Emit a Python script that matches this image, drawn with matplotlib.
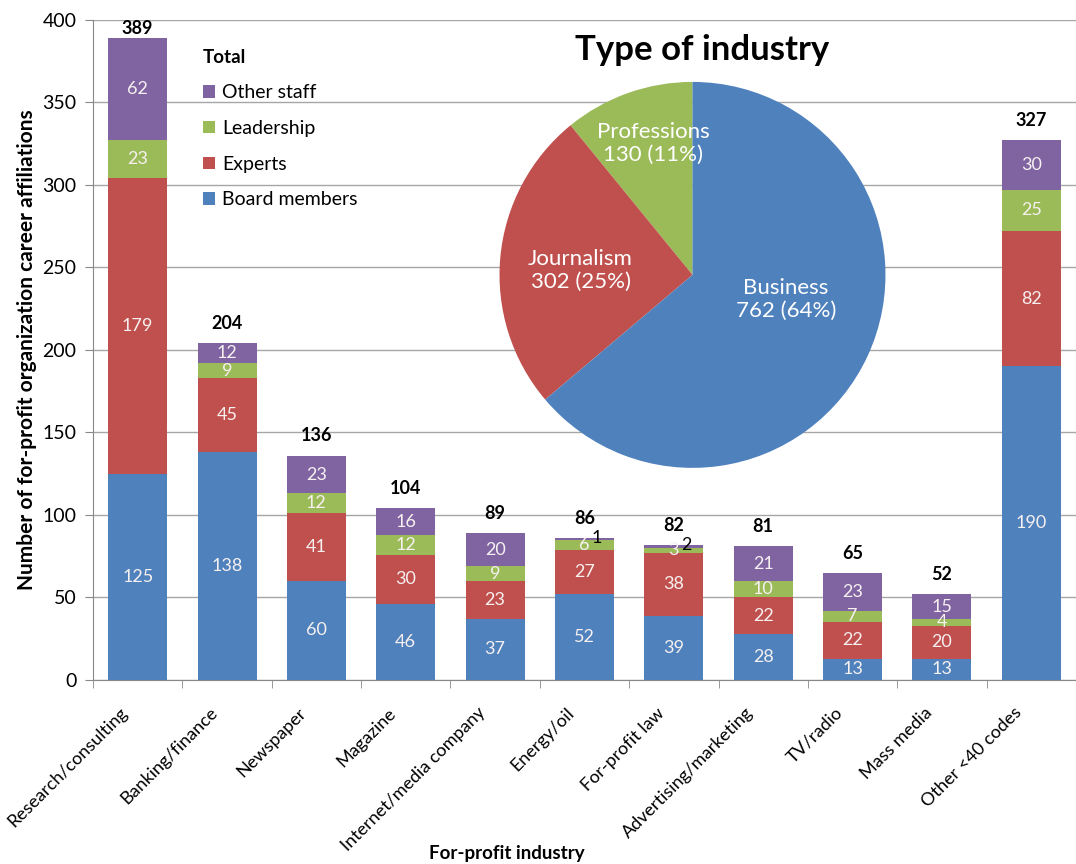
import matplotlib
matplotlib.use("Agg")
from matplotlib import pyplot as plt
from matplotlib.transforms import ScaledTranslation
import numpy as np

plt.rcParams['font.family'] = ['Lato', 'DejaVu Sans']

# data
industries = ["Research/consulting", "Banking/finance", "Newspaper", "Magazine",
              "Internet/media company", "Energy/oil", "For-profit law",
              "Advertising/marketing", "TV/radio", "Mass media", "Other <40 codes"]
board = [125, 138, 60, 46, 37, 52, 39, 28, 13, 13, 190]
experts = [179, 45, 41, 30, 23, 27, 38, 22, 22, 20, 82]
leadership = [23, 9, 12, 12, 9, 6, 3, 10, 7, 4, 25]
other_staff = [62, 12, 23, 16, 20, 1, 2, 21, 23, 15, 30]
series_names = ["Board members", "Experts", "Leadership", "Other staff"]

pie_labels = ["Professions", "Journalism", "Business"]
pie_values = [130, 302, 762]

colors = ["#4F81BD", "#C0504D", "#9BBB59", "#8064A2"]
pie_colors = ["#9BBB59", "#C0504D", "#4F81BD"]

fig = plt.figure(figsize=(10.76, 8.64), dpi=100)
ax = fig.add_axes([0.0864, 0.213, 0.9136, 0.764])

x = np.arange(len(industries))
series = [board, experts, leadership, other_staff]
bottom = np.zeros(len(industries))
for name, vals, c in zip(series_names, series, colors):
    vals = np.array(vals)
    ax.bar(x, vals, 0.66, bottom=bottom, color=c, label=name, zorder=2)
    for i, v in enumerate(vals):
        cy = bottom[i] + v / 2
        # tiny segments on top get their label beside the bar
        if v <= 2 and name == "Other staff":
            ax.text(x[i] + 0.14, cy + 0.5, str(v), ha="center", va="center",
                    fontsize=13, color="black", zorder=3)
        else:
            ax.text(x[i], cy, str(v), ha="center", va="center",
                    fontsize=13, color="#F6F0F0", zorder=3)
    bottom = bottom + vals

# totals
for i, t in enumerate(bottom):
    off = 1 if t > 370 else 8
    ax.annotate(str(int(t)), (x[i], t), xytext=(0, off), textcoords="offset points",
                ha="center", va="bottom", fontsize=13, fontweight="bold")

ax.set_xlim(-0.5, len(industries) - 0.5)
ax.set_ylim(0, 400)
ax.set_yticks(np.arange(0, 401, 50))
ax.set_xticks(x)
ax.set_xticklabels(industries, rotation=45, ha="right", rotation_mode="anchor",
                   fontsize=13)
ax.tick_params(axis="x", length=0, pad=12)
shift = ScaledTranslation(-0.18, -0.08, fig.dpi_scale_trans)
for lab in ax.get_xticklabels():
    lab.set_transform(lab.get_transform() + shift)
ax.set_xticks(np.arange(-0.5, len(industries), 1), minor=True)
ax.tick_params(axis="x", which="minor", length=6, color="#888888")
ax.tick_params(axis="y", labelsize=14, length=6, color="#888888", pad=6)
ax.yaxis.grid(True, color="#A6A6A6", linewidth=1, zorder=0)
ax.set_axisbelow(True)
for s in ["top", "right"]:
    ax.spines[s].set_visible(False)
for s in ["left", "bottom"]:
    ax.spines[s].set_color("#888888")

ax.set_ylabel("Number of for-profit organization career affiliations",
              fontsize=15, fontweight="bold", labelpad=4)
fig.text(507 / 1076, 1 - 853 / 864, "For-profit industry", ha="center",
         va="center", fontsize=13.5, fontweight="bold")

handles, labels = ax.get_legend_handles_labels()
ax.legend(handles[::-1], labels[::-1], title="Total", loc="upper left",
          bbox_to_anchor=(0.094, 0.983), frameon=False, fontsize=14,
          handlelength=0.6, handleheight=0.6, handletextpad=0.4,
          labelspacing=0.96, alignment="left",
          title_fontproperties={"weight": "bold", "size": 13.5})

# pie inset
ax2 = fig.add_axes([485 / 1076, 1 - 470 / 864, 415 / 1076, 440 / 864])
ax2.set_facecolor("white")
wedges, _ = ax2.pie(pie_values, colors=pie_colors, startangle=90,
                    counterclock=True, radius=1,
                    wedgeprops=dict(edgecolor="none"))
total = sum(pie_values)
label_r = [0.71, 0.58, 0.5]
label_shift = [-3, 3, 10]
for w, name, v, r, sh in zip(wedges, pie_labels, pie_values, label_r, label_shift):
    th = np.deg2rad((w.theta1 + w.theta2) / 2 + sh)
    ax2.text(r * np.cos(th), r * np.sin(th),
             "%s\n%d (%d%%)" % (name, v, round(100 * v / total)),
             ha="center", va="center", fontsize=16, color="white",
             linespacing=1.2)
ax2.set_xlim(-1.075, 1.075)
ax2.set_ylim(-1.011, 1.269)
ax2.set_aspect("equal", adjustable="box")
ax2.set_xticks([])
ax2.set_yticks([])
for s in ax2.spines.values():
    s.set_visible(False)
fig.text(702 / 1076, 1 - 50 / 864, "Type of industry", ha="center",
         va="center", fontsize=25, fontweight="bold")

plt.savefig("out.png", dpi=100)
